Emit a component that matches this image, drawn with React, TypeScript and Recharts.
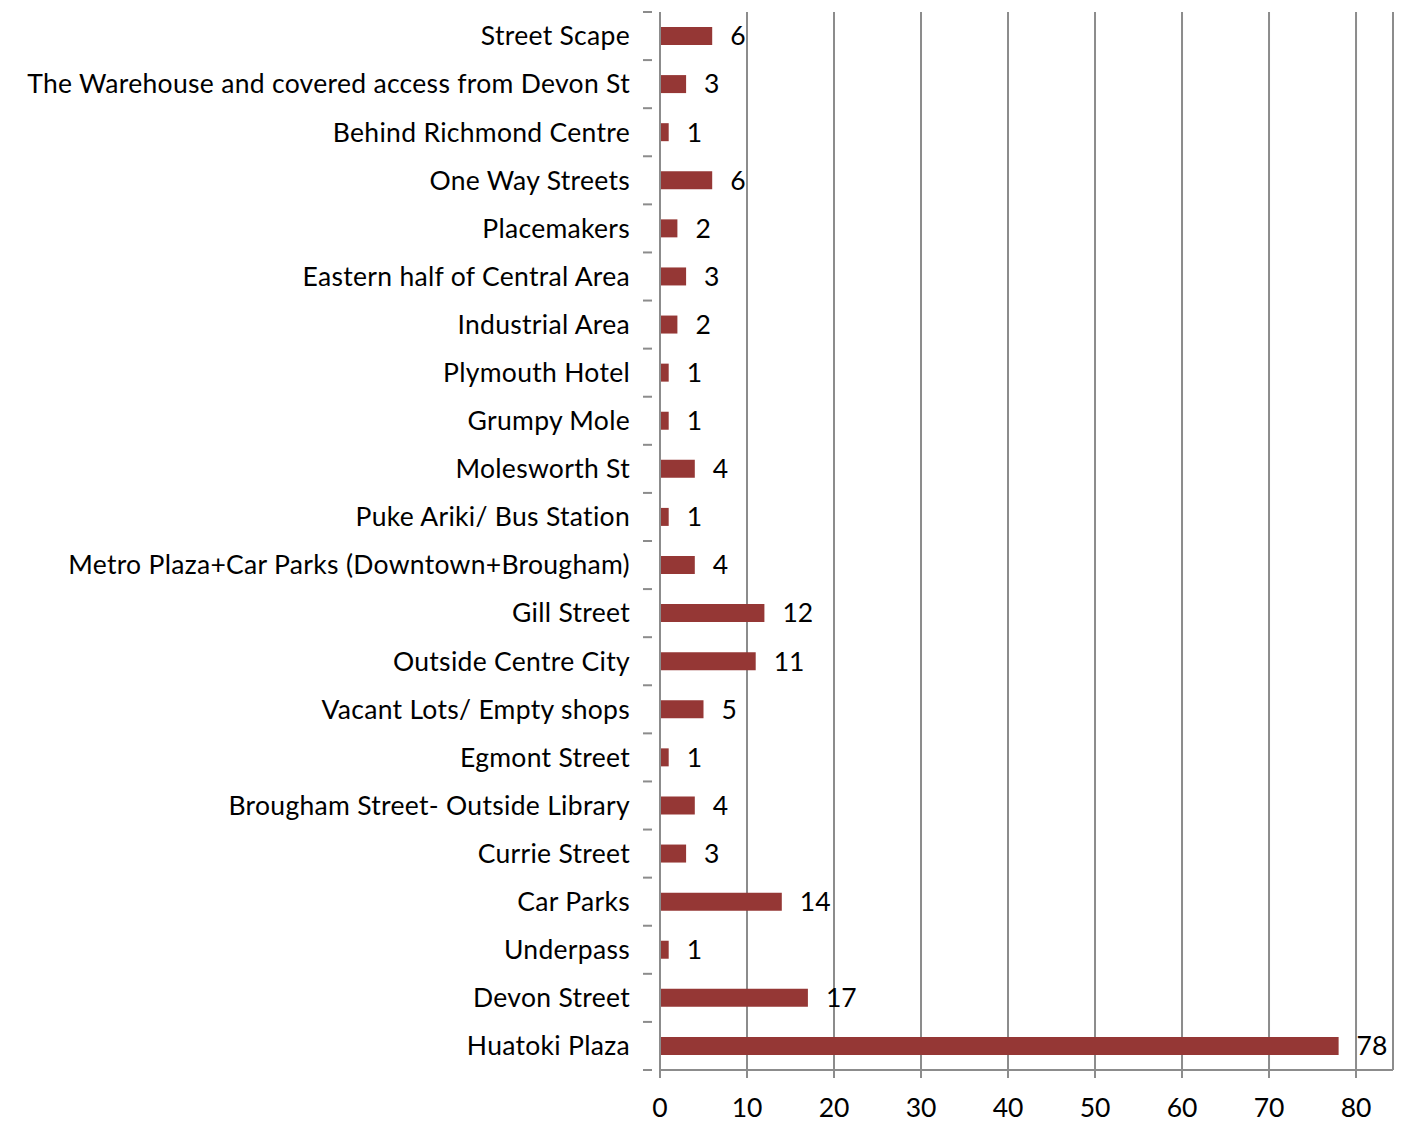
import React from 'react';
import { BarChart, Bar, XAxis, YAxis, CartesianGrid, LabelList } from 'recharts';

const categories = [
  'Street Scape',
  'The Warehouse and covered access from Devon St',
  'Behind Richmond Centre',
  'One Way Streets',
  'Placemakers',
  'Eastern half of Central Area',
  'Industrial Area',
  'Plymouth Hotel',
  'Grumpy Mole',
  'Molesworth St',
  'Puke Ariki/ Bus Station',
  'Metro Plaza+Car Parks (Downtown+Brougham)',
  'Gill Street',
  'Outside Centre City',
  'Vacant Lots/ Empty shops',
  'Egmont Street',
  'Brougham Street- Outside Library',
  'Currie Street',
  'Car Parks',
  'Underpass',
  'Devon Street',
  'Huatoki Plaza',
];
const counts = [6, 3, 1, 6, 2, 3, 2, 1, 1, 4, 1, 4, 12, 11, 5, 1, 4, 3, 14, 1, 17, 78];
const xTicks = [0, 10, 20, 30, 40, 50, 60, 70, 80];

const data = categories.map((name, i) => ({ name, value: counts[i] }));

const FONT = 'Lato, "Open Sans", sans-serif';
const FS = 26.5;
const AXIS = '#8c8c8c';
const W = 1395;
const H = 1116;
const M = { top: 4, right: 10, bottom: 0, left: 0 };
const Y_W = 652;
const X_H = 54;
const plotH = H - M.top - M.bottom - X_H;
const band = plotH / categories.length;

const CatTick = (props: any) => {
  const { x, y, payload, index } = props;
  const isLast = index === categories.length - 1;
  return (
    <g>
      <line x1={x - 9} x2={x} y1={y - band / 2} y2={y - band / 2} stroke={AXIS} strokeWidth={2} />
      {isLast && <line x1={x - 9} x2={x} y1={y + band / 2} y2={y + band / 2} stroke={AXIS} strokeWidth={2} />}
      <text x={x - 22} y={y} dy="0.35em" textAnchor="end" fontFamily={FONT} fontSize={FS} letterSpacing={0.3} fill="#000">
        {payload.value}
      </text>
    </g>
  );
};

const XTick = (props: any) => {
  const { x, y, payload } = props;
  return (
    <text x={x} y={y} dy="0.35em" textAnchor="middle" fontFamily={FONT} fontSize={FS} fill="#000">
      {payload.value}
    </text>
  );
};

export default function App() {
  return (
    <BarChart width={W} height={H} data={data} layout="vertical" margin={M} barCategoryGap={0}>
      <CartesianGrid horizontal={false} vertical={true} stroke={AXIS} strokeWidth={2} />
      <XAxis
        type="number"
        domain={[0, 84.25]}
        ticks={xTicks}
        allowDataOverflow
        height={X_H}
        stroke={AXIS}
        strokeWidth={2}
        tickSize={8}
        tickMargin={30}
        tick={<XTick />}
      />
      <YAxis
        type="category"
        dataKey="name"
        width={Y_W}
        stroke={AXIS}
        strokeWidth={2}
        tickLine={false}
        interval={0}
        tick={<CatTick />}
      />
      <Bar dataKey="value" fill="#953735" barSize={18} isAnimationActive={false}>
        <LabelList dataKey="value" position="right" offset={18} fill="#000" fontSize={FS} fontFamily={FONT} />
      </Bar>
    </BarChart>
  );
}
